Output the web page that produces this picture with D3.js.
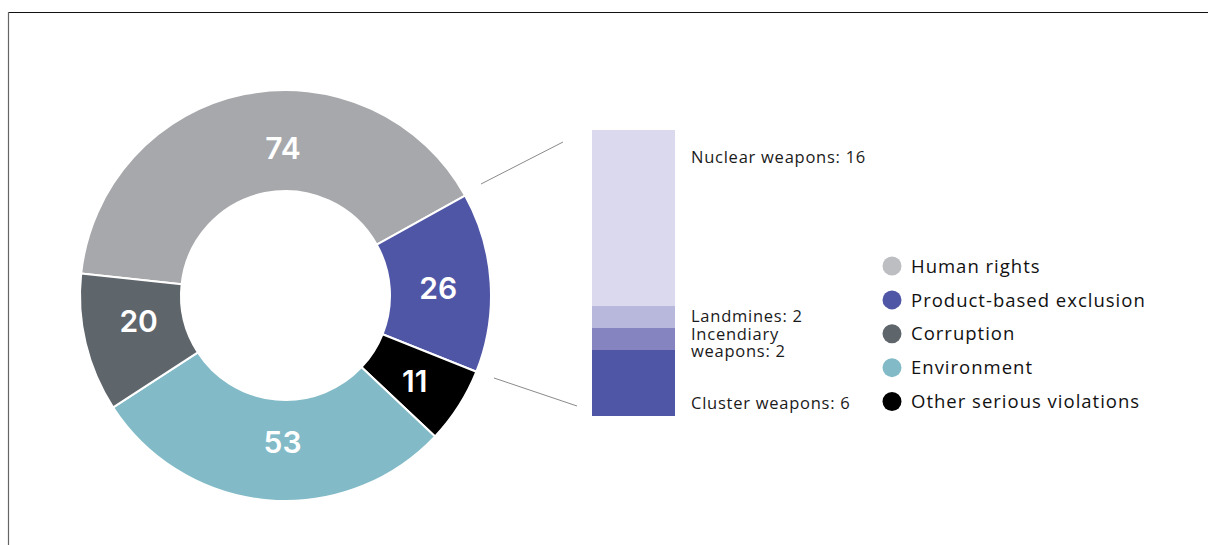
<!DOCTYPE html>
<html><head><meta charset="utf-8">
<script src="https://cdn.jsdelivr.net/npm/d3@7"></script>
<style>
html,body{margin:0;padding:0;background:#fff;}
svg{display:block;}
</style></head>
<body>
<svg id="c" width="1208" height="545"></svg>
<script>
// Donut data (clockwise order as drawn)
const ringCategories = ["Human rights", "Product-based exclusion", "Other serious violations", "Environment", "Corruption"];
const ringValues = [74, 26, 11, 53, 20];
const ringColors = ["#a7a8ab", "#5056a6", "#000000", "#82bbc7", "#5e656b"];
// manual label nudges (degrees along the ring, radius)
const ringLabelShift = [10.5, 0.8, 1, -4, 3.7];
const ringLabelRadius = [147, 153, 155, 147, 149];

// Breakdown of product-based exclusion (top to bottom)
const subCategories = ["Nuclear weapons", "Landmines", "Incendiary weapons", "Cluster weapons"];
const subValues = [16, 2, 2, 6];
const subColors = ["#dad9ee", "#b8b7dc", "#8684c0", "#5056a6"];

// Legend
const legendLabels = ["Human rights", "Product-based exclusion", "Corruption", "Environment", "Other serious violations"];
const legendColors = ["#bdbec1", "#5056a6", "#5e656b", "#82bbc7", "#000000"];

const svg = d3.select("#c");

// frame
svg.append("line").attr("x1", 8.5).attr("x2", 1208).attr("y1", 12.5).attr("y2", 12.5).attr("stroke", "#111").attr("stroke-width", 1.2);
svg.append("line").attr("x1", 8.5).attr("x2", 8.5).attr("y1", 12).attr("y2", 545).attr("stroke", "#666").attr("stroke-width", 1.2);

const cx = 285.5, cy = 295.5, R = 205.5, r0 = 104.5;
const startDeg = 60.9 - 360 * 74 / 184 ;
const pie = d3.pie().sort(null).value(d => d.v)
  .startAngle(startDeg * Math.PI / 180).endAngle((startDeg + 360) * Math.PI / 180);
const data = ringCategories.map((c, i) => ({c, v: ringValues[i], col: ringColors[i], i}));
const arcs = pie(data);
const arc = d3.arc().innerRadius(r0).outerRadius(R);

const g = svg.append("g").attr("transform", `translate(${cx},${cy})`);
g.selectAll("path").data(arcs).join("path")
  .attr("d", arc).attr("fill", d => d.data.col)
  .attr("stroke", "#fff").attr("stroke-width", 2).attr("stroke-linejoin", "bevel");
g.selectAll("text").data(arcs).join("text")
  .attr("transform", d => {
    const a = (d.startAngle + d.endAngle) / 2 + ringLabelShift[d.data.i] * Math.PI / 180;
    const rr = ringLabelRadius[d.data.i];
    return `translate(${rr * Math.sin(a)},${-rr * Math.cos(a)})`;
  })
  .attr("text-anchor", "middle").attr("dy", "0.36em")
  .attr("fill", "#fff").attr("font-family", "Inter, sans-serif").attr("font-weight", 600)
  .attr("font-size", 30).text(d => d.data.v);

// stacked bar
const barX = 592, barW = 83, barTop = 130, barBottom = 416;
const total = d3.sum(subValues);
const y = d3.scaleLinear().domain([0, total]).range([barTop, barBottom]);
let acc = 0;
const stacks = subValues.map((v, i) => { const s = {c: subCategories[i], v, y0: acc, y1: acc + v, col: subColors[i]}; acc += v; return s; });
svg.selectAll("rect.sub").data(stacks).join("rect").attr("class", "sub")
  .attr("x", barX).attr("width", barW)
  .attr("y", d => y(d.y0)).attr("height", d => y(d.y1) - y(d.y0))
  .attr("fill", d => d.col);

// connector lines
svg.append("line").attr("x1", 481).attr("y1", 184).attr("x2", 563).attr("y2", 142).attr("stroke", "#8a8a8a").attr("stroke-width", 1);
svg.append("line").attr("x1", 494).attr("y1", 378).attr("x2", 577).attr("y2", 406).attr("stroke", "#8a8a8a").attr("stroke-width", 1);

// bar labels
const lblFont = "'Open Sans', sans-serif";
const tx = 691;
const bl = svg.append("g").attr("font-family", lblFont).attr("font-size", 16.5)
  .attr("letter-spacing", 0.75).attr("fill", "#1a1a1a");
bl.append("text").attr("x", tx).attr("y", 162.5).text(`${subCategories[0]}: ${subValues[0]}`);
bl.append("text").attr("x", tx).attr("y", 322).text(`${subCategories[1]}: ${subValues[1]}`);
bl.append("text").attr("x", tx).attr("y", 340).text("Incendiary");
bl.append("text").attr("x", tx).attr("y", 357).text(`weapons: ${subValues[2]}`);
bl.append("text").attr("x", tx).attr("y", 408.5).text(`${subCategories[3]}: ${subValues[3]}`);

// legend
const lg = svg.append("g");
const ly = d3.scalePoint().domain(legendLabels).range([266, 401.5]);
lg.selectAll("circle").data(legendLabels).join("circle")
  .attr("cx", 892).attr("cy", d => ly(d)).attr("r", 9.5)
  .attr("fill", (d, i) => legendColors[i]);
lg.selectAll("text").data(legendLabels).join("text")
  .attr("x", 911).attr("y", d => ly(d)).attr("dy", "0.36em")
  .attr("font-family", lblFont).attr("font-size", 18.5).attr("letter-spacing", 1)
  .attr("fill", "#111")
  .text(d => d);
</script>
</body></html>
